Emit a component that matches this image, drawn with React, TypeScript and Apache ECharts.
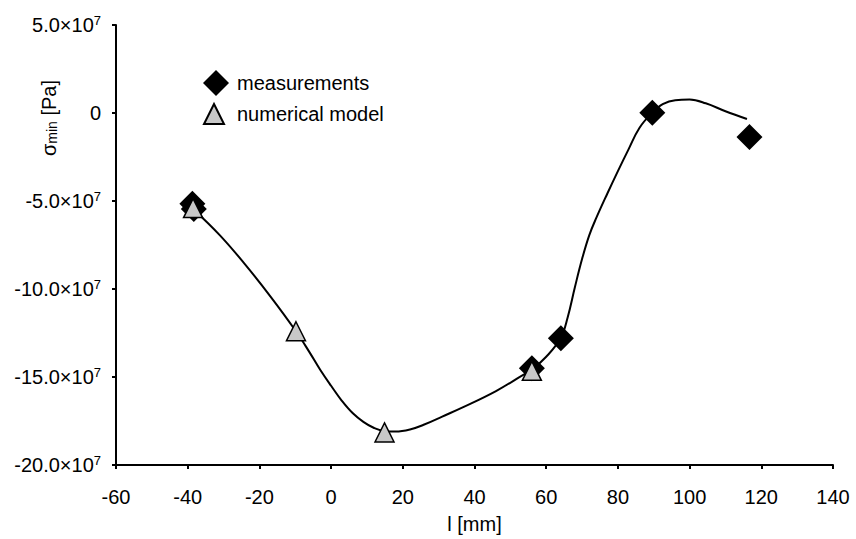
import React, { useEffect, useRef } from "react";
import * as echarts from "echarts";

// measurements (diamonds): [l mm, sigma_min Pa]
const measX = [-38.7, -38.3, 56, 64.1, 89.6, 116.7];
const measY = [-5.15e7, -5.45e7, -14.5e7, -12.8e7, 0.02e7, -1.36e7];

// numerical model (triangles)
const modelX = [-38.5, -9.8, 14.9, 56];
const modelY = [-5.4e7, -12.4e7, -18.15e7, -14.65e7];

// fitted curve (values in 1e7 Pa)
const curveX = [-38.5, -31, -24, -17, -9.8, -6, -3, 0, 3, 6, 9, 12, 15, 18, 22, 26, 31, 37, 46, 53, 56, 60, 64, 66, 68, 70, 72, 74, 77, 80, 83, 86, 89.5, 92.5, 96, 100, 104.5, 110, 116];
const curveY = [-5.45, -6.95, -8.6, -10.4, -12.4, -13.6, -14.6, -15.5, -16.35, -17.05, -17.55, -17.9, -18.08, -18.1, -17.98, -17.7, -17.25, -16.7, -15.8, -14.95, -14.58, -13.85, -12.8, -11.6, -9.9, -8.3, -6.95, -5.95, -4.6, -3.3, -2.05, -0.85, 0.0, 0.5, 0.73, 0.76, 0.55, 0.1, -0.34].map((v) => v * 1e7);

// tick labels
const yTickMantissa: Record<string, string> = {
  "-200000000": "-20.0",
  "-150000000": "-15.0",
  "-100000000": "-10.0",
  "-50000000": "-5.0",
  "0": "0",
  "50000000": "5.0",
};
const yExponent = "7";

const FONT = "Liberation Sans, Arial, sans-serif";

export default function App() {
  const ref = useRef<HTMLDivElement>(null);
  useEffect(() => {
    if (!ref.current) return;
    const chart = echarts.init(ref.current, null, { renderer: "svg" });
    chart.setOption({
      animation: false,
      backgroundColor: "#ffffff",
      textStyle: { fontFamily: FONT },
      grid: { left: 116, right: 23, top: 25, bottom: 67, containLabel: false },
      legend: [
        {
          data: [{ name: "measurements", icon: "diamond" }],
          left: 198,
          top: 65,
          itemWidth: 26,
          itemHeight: 26,
          textStyle: { fontSize: 20, color: "#000", fontFamily: FONT, padding: [0, 0, 0, 3] },
        },
        {
          data: [{ name: "numerical model", icon: "triangle" }],
          left: 198,
          top: 98,
          itemWidth: 20,
          itemHeight: 20,
          textStyle: { fontSize: 20, color: "#000", fontFamily: FONT, padding: [0, 0, 0, 8] },
        },
      ],
      xAxis: {
        type: "value",
        min: -60,
        max: 140,
        interval: 20,
        name: "l [mm]",
        nameLocation: "middle",
        nameGap: 49,
        nameTextStyle: { fontSize: 20, color: "#000", fontFamily: FONT },
        axisLine: { onZero: false, lineStyle: { color: "#000", width: 2 } },
        axisTick: { inside: false, length: 4, lineStyle: { color: "#000", width: 2 } },
        axisLabel: { fontSize: 20, color: "#000", margin: 22, fontFamily: FONT },
        splitLine: { show: false },
      },
      yAxis: {
        type: "value",
        min: -20e7,
        max: 5e7,
        interval: 5e7,
        axisLine: { show: true, onZero: false, lineStyle: { color: "#000", width: 2 } },
        axisTick: { show: true, inside: false, length: 4, lineStyle: { color: "#000", width: 2 } },
        axisLabel: {
          margin: 15,
          color: "#000",
          fontFamily: FONT,
          formatter: (v: number) => {
            const m = yTickMantissa[String(Math.round(v))];
            if (m === undefined) return "";
            if (m === "0") return "{a|0}";
            return `{a|${m}×10}{s|${yExponent}}`;
          },
          rich: {
            a: { fontSize: 20, color: "#000", fontFamily: FONT },
            s: { fontSize: 13, color: "#000", fontFamily: FONT, padding: [0, 0, 10, 0] },
          },
        },
        splitLine: { show: false },
      },
      graphic: [
        {
          type: "text",
          x: 52,
          y: 118,
          rotation: Math.PI / 2,
          style: {
            text: "{a|σ}{b|min}{a| [Pa]}",
            align: "center",
            verticalAlign: "middle",
            rich: {
              a: { fontSize: 20, fill: "#000", fontFamily: FONT, padding: [0, 0, 6, 0] },
              b: { fontSize: 14, fill: "#000", fontFamily: FONT },
            },
          },
        },
      ],
      series: [
        {
          type: "line",
          name: "curve",
          data: curveX.map((x, i) => [x, curveY[i]]),
          smooth: 0.4,
          showSymbol: false,
          symbol: "none",
          lineStyle: { color: "#000", width: 2 },
          z: 1,
        },
        {
          type: "scatter",
          name: "measurements",
          data: measX.map((x, i) => [x, measY[i]]),
          symbol: "diamond",
          symbolSize: 26,
          itemStyle: { color: "#000", borderColor: "#000", borderWidth: 0, opacity: 1 },
          z: 2,
        },
        {
          type: "scatter",
          name: "numerical model",
          data: modelX.map((x, i) => [x, modelY[i]]),
          symbol: "triangle",
          symbolSize: 19,
          itemStyle: { color: "#c8c8c8", borderColor: "#000", borderWidth: 1.5, opacity: 1 },
          z: 3,
        },
      ],
    });
    return () => chart.dispose();
  }, []);
  return <div ref={ref} style={{ width: 856, height: 539, position: "absolute", left: 0, top: 0 }} />;
}
